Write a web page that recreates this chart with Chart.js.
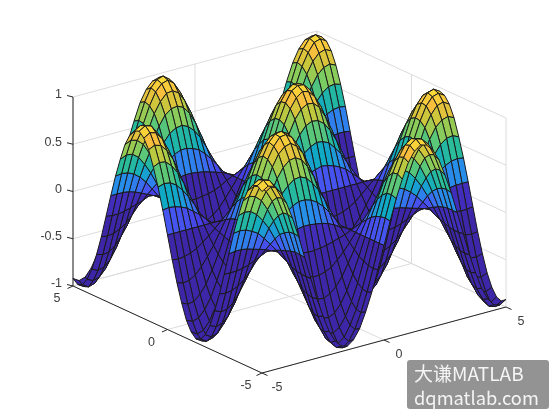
<!DOCTYPE html>
<html>
<head>
<meta charset="utf-8">
<script src="https://cdn.jsdelivr.net/npm/chart.js@4"></script>
<style>
  body { margin: 0; background: #fff; }
  #wrap { position: relative; width: 560px; height: 420px; }
  #mark {
    position: absolute; left: 407px; top: 360px; width: 142px; height: 49px;
    background: #939393; border-radius: 3px; color: #f4f4f4;
    font: 18.3px/24px "Noto Sans CJK SC", "Noto Sans", sans-serif;
    padding: 1px 0 0 7px; box-sizing: border-box; white-space: nowrap;
  }
  #mark span { font-size: 19px; }
</style>
</head>
<body>
<div id="wrap">
  <canvas id="chart" width="560" height="420"></canvas>
  <div id="mark"><span>大谦MATLAB</span><br>dqmatlab.com</div>
</div>
<script>
const xValues = [-5,-4.75,-4.5,-4.25,-4,-3.75,-3.5,-3.25,-3,-2.75,-2.5,-2.25,-2,-1.75,-1.5,-1.25,-1,-0.75,-0.5,-0.25,0,0.25,0.5,0.75,1,1.25,1.5,1.75,2,2.25,2.5,2.75,3,3.25,3.5,3.75,4,4.25,4.5,4.75,5];
const yValues = [-5,-4.75,-4.5,-4.25,-4,-3.75,-3.5,-3.25,-3,-2.75,-2.5,-2.25,-2,-1.75,-1.5,-1.25,-1,-0.75,-0.5,-0.25,0,0.25,0.5,0.75,1,1.25,1.5,1.75,2,2.25,2.5,2.75,3,3.25,3.5,3.75,4,4.25,4.5,4.75,5];

// one row per y value
const zRows = [
  [.92,.96,.94,.86,.73,.55,.34,.10,-.14,-.37,-.57,-.75,-.87,-.94,-.96,-.91,-.81,-.65,-.46,-.24,0,.24,.46,.65,.81,.91,.96,.94,.87,.75,.57,.37,.14,-.10,-.34,-.55,-.73,-.86,-.94,-.96,-.92],
  [.96,1,.98,.89,.76,.57,.35,.11,-.14,-.38,-.60,-.78,-.91,-.98,-1,-.95,-.84,-.68,-.48,-.25,0,.25,.48,.68,.84,.95,1,.98,.91,.78,.60,.38,.14,-.11,-.35,-.57,-.76,-.89,-.98,-1,-.96],
  [.94,.98,.96,.87,.74,.56,.34,.11,-.14,-.37,-.59,-.76,-.89,-.96,-.98,-.93,-.82,-.67,-.47,-.24,0,.24,.47,.67,.82,.93,.98,.96,.89,.76,.59,.37,.14,-.11,-.34,-.56,-.74,-.87,-.96,-.98,-.94],
  [.86,.89,.87,.80,.68,.51,.31,.10,-.13,-.34,-.54,-.70,-.81,-.88,-.89,-.85,-.75,-.61,-.43,-.22,0,.22,.43,.61,.75,.85,.89,.88,.81,.70,.54,.34,.13,-.10,-.31,-.51,-.68,-.80,-.87,-.89,-.86],
  [.73,.76,.74,.68,.57,.43,.27,.08,-.11,-.29,-.45,-.59,-.69,-.74,-.75,-.72,-.64,-.52,-.36,-.19,0,.19,.36,.52,.64,.72,.75,.74,.69,.59,.45,.29,.11,-.08,-.27,-.43,-.57,-.68,-.74,-.76,-.73],
  [.55,.57,.56,.51,.43,.33,.20,.06,-.08,-.22,-.34,-.44,-.52,-.56,-.57,-.54,-.48,-.39,-.27,-.14,0,.14,.27,.39,.48,.54,.57,.56,.52,.44,.34,.22,.08,-.06,-.20,-.33,-.43,-.51,-.56,-.57,-.55],
  [.34,.35,.34,.31,.27,.20,.12,.04,-.05,-.13,-.21,-.27,-.32,-.35,-.35,-.33,-.30,-.24,-.17,-.09,0,.09,.17,.24,.30,.33,.35,.35,.32,.27,.21,.13,.05,-.04,-.12,-.20,-.27,-.31,-.34,-.35,-.34],
  [.10,.11,.11,.10,.08,.06,.04,.01,-.02,-.04,-.06,-.08,-.10,-.11,-.11,-.10,-.09,-.07,-.05,-.03,0,.03,.05,.07,.09,.10,.11,.11,.10,.08,.06,.04,.02,-.01,-.04,-.06,-.08,-.10,-.11,-.11,-.10],
  [-.14,-.14,-.14,-.13,-.11,-.08,-.05,-.02,.02,.05,.08,.11,.13,.14,.14,.13,.12,.10,.07,.03,0,-.03,-.07,-.10,-.12,-.13,-.14,-.14,-.13,-.11,-.08,-.05,-.02,.02,.05,.08,.11,.13,.14,.14,.14],
  [-.37,-.38,-.37,-.34,-.29,-.22,-.13,-.04,.05,.15,.23,.30,.35,.38,.38,.36,.32,.26,.18,.09,0,-.09,-.18,-.26,-.32,-.36,-.38,-.38,-.35,-.30,-.23,-.15,-.05,.04,.13,.22,.29,.34,.37,.38,.37],
  [-.57,-.60,-.59,-.54,-.45,-.34,-.21,-.06,.08,.23,.36,.47,.54,.59,.60,.57,.50,.41,.29,.15,0,-.15,-.29,-.41,-.50,-.57,-.60,-.59,-.54,-.47,-.36,-.23,-.08,.06,.21,.34,.45,.54,.59,.60,.57],
  [-.75,-.78,-.76,-.70,-.59,-.44,-.27,-.08,.11,.30,.47,.61,.71,.77,.78,.74,.65,.53,.37,.19,0,-.19,-.37,-.53,-.65,-.74,-.78,-.77,-.71,-.61,-.47,-.30,-.11,.08,.27,.44,.59,.70,.76,.78,.75],
  [-.87,-.91,-.89,-.81,-.69,-.52,-.32,-.10,.13,.35,.54,.71,.83,.89,.91,.86,.77,.62,.44,.22,0,-.22,-.44,-.62,-.77,-.86,-.91,-.89,-.83,-.71,-.54,-.35,-.13,.10,.32,.52,.69,.81,.89,.91,.87],
  [-.94,-.98,-.96,-.88,-.74,-.56,-.35,-.11,.14,.38,.59,.77,.89,.97,.98,.93,.83,.67,.47,.24,0,-.24,-.47,-.67,-.83,-.93,-.98,-.97,-.89,-.77,-.59,-.38,-.14,.11,.35,.56,.74,.88,.96,.98,.94],
  [-.96,-1,-.98,-.89,-.75,-.57,-.35,-.11,.14,.38,.60,.78,.91,.98,.99,.95,.84,.68,.48,.25,0,-.25,-.48,-.68,-.84,-.95,-.99,-.98,-.91,-.78,-.60,-.38,-.14,.11,.35,.57,.75,.89,.98,1,.96],
  [-.91,-.95,-.93,-.85,-.72,-.54,-.33,-.10,.13,.36,.57,.74,.86,.93,.95,.90,.80,.65,.45,.23,0,-.23,-.45,-.65,-.80,-.90,-.95,-.93,-.86,-.74,-.57,-.36,-.13,.10,.33,.54,.72,.85,.93,.95,.91],
  [-.81,-.84,-.82,-.75,-.64,-.48,-.30,-.09,.12,.32,.50,.65,.77,.83,.84,.80,.71,.57,.40,.21,0,-.21,-.40,-.57,-.71,-.80,-.84,-.83,-.77,-.65,-.50,-.32,-.12,.09,.30,.48,.64,.75,.82,.84,.81],
  [-.65,-.68,-.67,-.61,-.52,-.39,-.24,-.07,.10,.26,.41,.53,.62,.67,.68,.65,.57,.46,.33,.17,0,-.17,-.33,-.46,-.57,-.65,-.68,-.67,-.62,-.53,-.41,-.26,-.10,.07,.24,.39,.52,.61,.67,.68,.65],
  [-.46,-.48,-.47,-.43,-.36,-.27,-.17,-.05,.07,.18,.29,.37,.44,.47,.48,.45,.40,.33,.23,.12,0,-.12,-.23,-.33,-.40,-.45,-.48,-.47,-.44,-.37,-.29,-.18,-.07,.05,.17,.27,.36,.43,.47,.48,.46],
  [-.24,-.25,-.24,-.22,-.19,-.14,-.09,-.03,.03,.09,.15,.19,.22,.24,.25,.23,.21,.17,.12,.06,0,-.06,-.12,-.17,-.21,-.23,-.25,-.24,-.22,-.19,-.15,-.09,-.03,.03,.09,.14,.19,.22,.24,.25,.24],
  [0,0,0,0,0,0,0,0,0,0,0,0,0,0,0,0,0,0,0,0,0,0,0,0,0,0,0,0,0,0,0,0,0,0,0,0,0,0,0,0,0],
  [.24,.25,.24,.22,.19,.14,.09,.03,-.03,-.09,-.15,-.19,-.22,-.24,-.25,-.23,-.21,-.17,-.12,-.06,0,.06,.12,.17,.21,.23,.25,.24,.22,.19,.15,.09,.03,-.03,-.09,-.14,-.19,-.22,-.24,-.25,-.24],
  [.46,.48,.47,.43,.36,.27,.17,.05,-.07,-.18,-.29,-.37,-.44,-.47,-.48,-.45,-.40,-.33,-.23,-.12,0,.12,.23,.33,.40,.45,.48,.47,.44,.37,.29,.18,.07,-.05,-.17,-.27,-.36,-.43,-.47,-.48,-.46],
  [.65,.68,.67,.61,.52,.39,.24,.07,-.10,-.26,-.41,-.53,-.62,-.67,-.68,-.65,-.57,-.46,-.33,-.17,0,.17,.33,.46,.57,.65,.68,.67,.62,.53,.41,.26,.10,-.07,-.24,-.39,-.52,-.61,-.67,-.68,-.65],
  [.81,.84,.82,.75,.64,.48,.30,.09,-.12,-.32,-.50,-.65,-.77,-.83,-.84,-.80,-.71,-.57,-.40,-.21,0,.21,.40,.57,.71,.80,.84,.83,.77,.65,.50,.32,.12,-.09,-.30,-.48,-.64,-.75,-.82,-.84,-.81],
  [.91,.95,.93,.85,.72,.54,.33,.10,-.13,-.36,-.57,-.74,-.86,-.93,-.95,-.90,-.80,-.65,-.45,-.23,0,.23,.45,.65,.80,.90,.95,.93,.86,.74,.57,.36,.13,-.10,-.33,-.54,-.72,-.85,-.93,-.95,-.91],
  [.96,1,.98,.89,.75,.57,.35,.11,-.14,-.38,-.60,-.78,-.91,-.98,-.99,-.95,-.84,-.68,-.48,-.25,0,.25,.48,.68,.84,.95,.99,.98,.91,.78,.60,.38,.14,-.11,-.35,-.57,-.75,-.89,-.98,-1,-.96],
  [.94,.98,.96,.88,.74,.56,.35,.11,-.14,-.38,-.59,-.77,-.89,-.97,-.98,-.93,-.83,-.67,-.47,-.24,0,.24,.47,.67,.83,.93,.98,.97,.89,.77,.59,.38,.14,-.11,-.35,-.56,-.74,-.88,-.96,-.98,-.94],
  [.87,.91,.89,.81,.69,.52,.32,.10,-.13,-.35,-.54,-.71,-.83,-.89,-.91,-.86,-.77,-.62,-.44,-.22,0,.22,.44,.62,.77,.86,.91,.89,.83,.71,.54,.35,.13,-.10,-.32,-.52,-.69,-.81,-.89,-.91,-.87],
  [.75,.78,.76,.70,.59,.44,.27,.08,-.11,-.30,-.47,-.61,-.71,-.77,-.78,-.74,-.65,-.53,-.37,-.19,0,.19,.37,.53,.65,.74,.78,.77,.71,.61,.47,.30,.11,-.08,-.27,-.44,-.59,-.70,-.76,-.78,-.75],
  [.57,.60,.59,.54,.45,.34,.21,.06,-.08,-.23,-.36,-.47,-.54,-.59,-.60,-.57,-.50,-.41,-.29,-.15,0,.15,.29,.41,.50,.57,.60,.59,.54,.47,.36,.23,.08,-.06,-.21,-.34,-.45,-.54,-.59,-.60,-.57],
  [.37,.38,.37,.34,.29,.22,.13,.04,-.05,-.15,-.23,-.30,-.35,-.38,-.38,-.36,-.32,-.26,-.18,-.09,0,.09,.18,.26,.32,.36,.38,.38,.35,.30,.23,.15,.05,-.04,-.13,-.22,-.29,-.34,-.37,-.38,-.37],
  [.14,.14,.14,.13,.11,.08,.05,.02,-.02,-.05,-.08,-.11,-.13,-.14,-.14,-.13,-.12,-.10,-.07,-.03,0,.03,.07,.10,.12,.13,.14,.14,.13,.11,.08,.05,.02,-.02,-.05,-.08,-.11,-.13,-.14,-.14,-.14],
  [-.10,-.11,-.11,-.10,-.08,-.06,-.04,-.01,.02,.04,.06,.08,.10,.11,.11,.10,.09,.07,.05,.03,0,-.03,-.05,-.07,-.09,-.10,-.11,-.11,-.10,-.08,-.06,-.04,-.02,.01,.04,.06,.08,.10,.11,.11,.10],
  [-.34,-.35,-.34,-.31,-.27,-.20,-.12,-.04,.05,.13,.21,.27,.32,.35,.35,.33,.30,.24,.17,.09,0,-.09,-.17,-.24,-.30,-.33,-.35,-.35,-.32,-.27,-.21,-.13,-.05,.04,.12,.20,.27,.31,.34,.35,.34],
  [-.55,-.57,-.56,-.51,-.43,-.33,-.20,-.06,.08,.22,.34,.44,.52,.56,.57,.54,.48,.39,.27,.14,0,-.14,-.27,-.39,-.48,-.54,-.57,-.56,-.52,-.44,-.34,-.22,-.08,.06,.20,.33,.43,.51,.56,.57,.55],
  [-.73,-.76,-.74,-.68,-.57,-.43,-.27,-.08,.11,.29,.45,.59,.69,.74,.75,.72,.64,.52,.36,.19,0,-.19,-.36,-.52,-.64,-.72,-.75,-.74,-.69,-.59,-.45,-.29,-.11,.08,.27,.43,.57,.68,.74,.76,.73],
  [-.86,-.89,-.87,-.80,-.68,-.51,-.31,-.10,.13,.34,.54,.70,.81,.88,.89,.85,.75,.61,.43,.22,0,-.22,-.43,-.61,-.75,-.85,-.89,-.88,-.81,-.70,-.54,-.34,-.13,.10,.31,.51,.68,.80,.87,.89,.86],
  [-.94,-.98,-.96,-.87,-.74,-.56,-.34,-.11,.14,.37,.59,.76,.89,.96,.98,.93,.82,.67,.47,.24,0,-.24,-.47,-.67,-.82,-.93,-.98,-.96,-.89,-.76,-.59,-.37,-.14,.11,.34,.56,.74,.87,.96,.98,.94],
  [-.96,-1,-.98,-.89,-.76,-.57,-.35,-.11,.14,.38,.60,.78,.91,.98,1,.95,.84,.68,.48,.25,0,-.25,-.48,-.68,-.84,-.95,-1,-.98,-.91,-.78,-.60,-.38,-.14,.11,.35,.57,.76,.89,.98,1,.96],
  [-.92,-.96,-.94,-.86,-.73,-.55,-.34,-.10,.14,.37,.57,.75,.87,.94,.96,.91,.81,.65,.46,.24,0,-.24,-.46,-.65,-.81,-.91,-.96,-.94,-.87,-.75,-.57,-.37,-.14,.10,.34,.55,.73,.86,.94,.96,.92],
];

const xTicks = [-5, 0, 5];
const yTicks = [-5, 0, 5];
const zTicks = [-1, -0.5, 0, 0.5, 1];
const zTickLabels = ["-1", "-0.5", "0", "0.5", "1"];

// colours picked from the surface, low z to high z
const colourStops = [0, 0.05, 0.12, 0.25, 0.36, 0.48, 0.62, 0.76, 0.88, 1];
const colourRgb = [
  [62,38,168],[70,60,225],[70,85,240],[40,140,235],[15,170,195],
  [40,187,155],[120,205,100],[195,200,60],[247,190,60],[250,222,55],
];

// view: same as the axes box in the picture (parallel projection)
function project(x, y, z) {
  const u = (x + 5) / 10, v = (y + 5) / 10, w = (z + 1) / 2;
  return { x: 262 + 244 * u - 189 * v, y: 373 - 66 * u - 87 * v - 189 * w };
}

function colourFor(z) {
  if (z <= colourStops[0]) return `rgb(${colourRgb[0]})`;
  let i = 0;
  while (i < colourStops.length - 2 && z > colourStops[i + 1]) i++;
  const t = (z - colourStops[i]) / (colourStops[i + 1] - colourStops[i]);
  const c = colourRgb[i].map((v, k) => Math.round(v + (colourRgb[i + 1][k] - v) * t));
  return `rgb(${c})`;
}

const lineSet = (points, colour) => ({
  data: points, showLine: true, fill: false, pointRadius: 0,
  borderColor: colour, borderWidth: 1,
});

const datasets = [];

// surface quads, nearest first since dataset 0 is painted last
// a quad is coloured by the mean z of its corners
for (let j = 0; j < yValues.length - 1; j++) {
  for (let i = 0; i < xValues.length - 1; i++) {
    const a = project(xValues[i], yValues[j], zRows[j][i]);
    const b = project(xValues[i + 1], yValues[j], zRows[j][i + 1]);
    const c = project(xValues[i + 1], yValues[j + 1], zRows[j + 1][i + 1]);
    const d = project(xValues[i], yValues[j + 1], zRows[j + 1][i]);
    const mean = (zRows[j][i] + zRows[j][i + 1] + zRows[j + 1][i + 1] + zRows[j + 1][i]) / 4;
    datasets.push({
      data: [a, b, c, d, a], showLine: true, fill: "shape", pointRadius: 0,
      borderColor: "#1a1a1a", borderWidth: 1, backgroundColor: colourFor(mean),
    });
  }
}

// axis lines and ticks
const axisColour = "#262626";
datasets.push(lineSet([project(-5, 5, -1), project(-5, -5, -1), project(5, -5, -1)], axisColour));
datasets.push(lineSet([project(-5, 5, -1), project(-5, 5, 1)], axisColour));
zTicks.forEach((z) => {
  const p = project(-5, 5, z);
  datasets.push(lineSet([p, { x: p.x - 6, y: p.y - 1.5 }], axisColour));
});
yTicks.forEach((y) => {
  const p = project(-5, y, -1);
  datasets.push(lineSet([p, { x: p.x - 5.5, y: p.y + 2.5 }], axisColour));
});
xTicks.forEach((x) => {
  const p = project(x, -5, -1);
  datasets.push(lineSet([p, { x: p.x + 5.5, y: p.y + 2.5 }], axisColour));
});

// back walls and floor grid
const gridColour = "#dcdcdc";
zTicks.forEach((z) => {
  datasets.push(lineSet([project(-5, 5, z), project(5, 5, z), project(5, -5, z)], gridColour));
});
xTicks.forEach((x) => {
  datasets.push(lineSet([project(x, -5, -1), project(x, 5, -1), project(x, 5, 1)], gridColour));
});
yTicks.forEach((y) => {
  datasets.push(lineSet([project(-5, y, -1), project(5, y, -1), project(5, y, 1)], gridColour));
});

// tick labels sit on the projected axes
const tickLabels = {
  id: "tickLabels",
  afterDraw(chart) {
    const { ctx, scales } = chart;
    const put = (text, p, dx, dy, align) => {
      ctx.textAlign = align;
      ctx.fillText(text, scales.x.getPixelForValue(p.x) + dx, scales.y.getPixelForValue(p.y) + dy);
    };
    ctx.save();
    ctx.font = '12.5px "Liberation Sans", Arial, sans-serif';
    ctx.fillStyle = "#404040";
    ctx.textBaseline = "middle";
    zTicks.forEach((z, i) => put(zTickLabels[i], project(-5, 5, z), -11, -2, "right"));
    yTicks.forEach((y) => put(String(y), project(-5, y, -1), -16, 13, "center"));
    xTicks.forEach((x) => put(String(x), project(x, -5, -1), 15, 15, "center"));
    ctx.restore();
  },
};

new Chart(document.getElementById("chart").getContext("2d"), {
  type: "scatter",
  data: { datasets: datasets },
  options: {
    responsive: false,
    animation: false,
    layout: { padding: 0 },
    plugins: { legend: { display: false }, tooltip: { enabled: false } },
    scales: {
      x: { type: "linear", min: 0, max: 560, display: false },
      y: { type: "linear", min: 0, max: 420, reverse: true, display: false },
    },
  },
  plugins: [tickLabels],
});
</script>
</body>
</html>
